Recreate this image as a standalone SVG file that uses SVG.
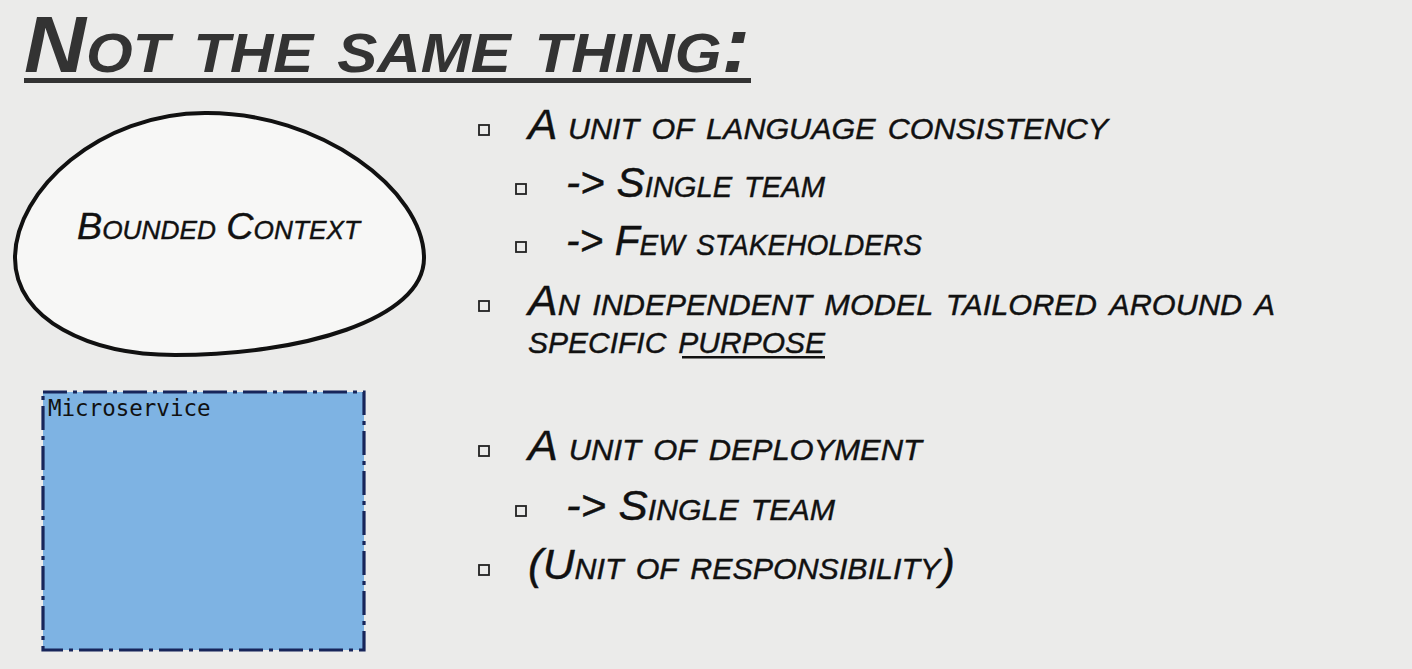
<svg xmlns="http://www.w3.org/2000/svg" width="1412" height="669" viewBox="0 0 1412 669">
  <defs>
    <style>
      .hand { font-family: "Liberation Sans", "DejaVu Sans", sans-serif; font-style: italic; font-variant: small-caps; fill: #111; stroke: #111; stroke-width: 0.4; }
      .title { font-weight: bold; fill: #333; stroke: none; font-size: 80px; }
      .item { font-size: 42px; }
      .bullet { fill: none; stroke: #222; stroke-width: 1.8; }
      .mono { font-family: "DejaVu Sans Mono", "Liberation Mono", monospace; font-size: 22.5px; fill: #111; }
    </style>
  </defs>

  <!-- paper background -->
  <rect x="0" y="0" width="1412" height="669" fill="#ebebea"/>

  <!-- heading -->
  <g id="title">
    <text class="hand title" x="24" y="72" textLength="726" lengthAdjust="spacingAndGlyphs">Not the same thing:</text>
    <rect x="24" y="78" width="727" height="5" fill="#333"/>
  </g>

  <!-- bounded context blob -->
  <g id="bounded-context">
    <path d="M 205 113 C 320 112, 424 190, 424 258 C 424 320, 300 355, 175 355 C 90 355, 15 320, 15 258 C 15 190, 100 113, 205 113 Z" fill="#f7f7f6" stroke="#111" stroke-width="4"/>
    <text class="hand" x="77" y="239" font-size="36" textLength="283" lengthAdjust="spacingAndGlyphs">Bounded Context</text>
  </g>

  <!-- microservice box -->
  <g id="microservice">
    <rect x="43" y="392" width="321" height="258" fill="#7eb3e3" stroke="#17255a" stroke-width="3.2" stroke-dasharray="24 6 4 6"/>
    <text class="mono" x="48" y="416">Microservice</text>
  </g>

  <!-- bounded context properties -->
  <g id="bc-list">
    <rect class="bullet" x="479" y="125" width="10" height="10"/>
    <text class="hand item" x="528" y="139" textLength="580" lengthAdjust="spacingAndGlyphs">A unit of language consistency</text>

    <rect class="bullet" x="516" y="184" width="10" height="10"/>
    <text class="hand item" x="566" y="197" textLength="259" lengthAdjust="spacingAndGlyphs">-&gt; Single team</text>

    <rect class="bullet" x="516" y="242" width="10" height="10"/>
    <text class="hand item" x="566" y="255" textLength="356" lengthAdjust="spacingAndGlyphs">-&gt; Few stakeholders</text>

    <rect class="bullet" x="479" y="301" width="10" height="10"/>
    <text class="hand item">
      <tspan x="528" y="315" textLength="747" lengthAdjust="spacingAndGlyphs">An independent model tailored around a</tspan>
      <tspan x="528" y="353" textLength="297" lengthAdjust="spacingAndGlyphs">specific purpose</tspan>
    </text>
    <rect x="682" y="356" width="143" height="2.5" fill="#111"/>
  </g>

  <!-- microservice properties -->
  <g id="ms-list">
    <rect class="bullet" x="479" y="446" width="10" height="10"/>
    <text class="hand item" x="528" y="460" textLength="394" lengthAdjust="spacingAndGlyphs">A unit of deployment</text>

    <rect class="bullet" x="516" y="506" width="10" height="10"/>
    <text class="hand item" x="566" y="520" textLength="269" lengthAdjust="spacingAndGlyphs">-&gt; Single team</text>

    <rect class="bullet" x="479" y="565" width="10" height="10"/>
    <text class="hand item" x="528" y="579" textLength="427" lengthAdjust="spacingAndGlyphs">(Unit of responsibility)</text>
  </g>
</svg>
